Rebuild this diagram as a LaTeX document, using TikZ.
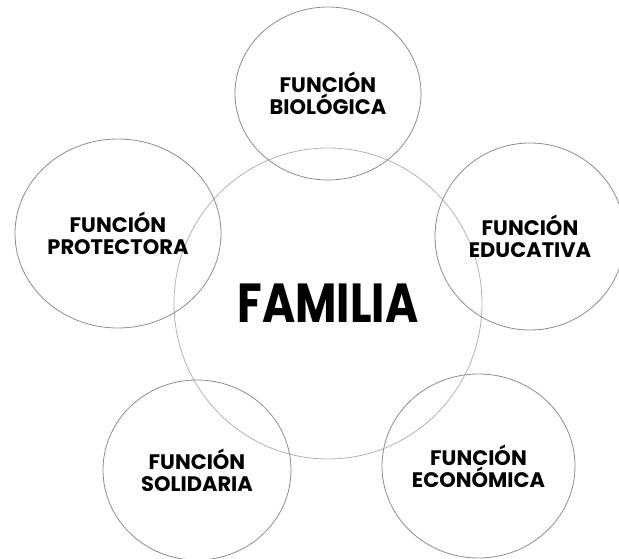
\documentclass[tikz,border=0pt]{standalone}
\usepackage{fontspec}
\setmainfont{Poppins}
\newfontfamily\familiafont[FakeStretch=0.82]{Poppins}
\usetikzlibrary{shapes.geometric}

\begin{document}
\begin{tikzpicture}[x=1pt, y=-1pt,
      funcion/.style = {ellipse, draw=black!45, line width=0.8pt, inner sep=0pt,
                        align=center, font=\bfseries\fontsize{21}{22}\selectfont},
      nucleo/.style  = {ellipse, draw=black!30, line width=0.8pt, inner sep=0pt,
                        font=\familiafont\bfseries\fontsize{55}{60}\selectfont}]
  \useasboundingbox (0,0) rectangle (619,559);
  \clip (0,0) rectangle (619,559);
  \node[nucleo, minimum width=308pt, minimum height=311pt] (familia) at (328,303.5) {FAMILIA};
  \node[funcion, minimum width=186pt, minimum height=173pt] (biologica) at (328,93.5) {FUNCIÓN\\BIOLÓGICA};
  \node[funcion, minimum width=206pt, minimum height=189pt] (protectora) at (118,233.5) {FUNCIÓN\\PROTECTORA};
  \node[funcion, minimum width=190pt, minimum height=187pt] (educativa) at (530,236.5) {FUNCIÓN\\EDUCATIVA};
  \node[funcion, minimum width=188pt, minimum height=180pt] (solidaria) at (197,470) {FUNCIÓN\\SOLIDARIA};
  \node[funcion, minimum width=193pt, minimum height=184pt] (economica) at (478.5,466) {FUNCIÓN\\ECONÓMICA};
\end{tikzpicture}
\end{document}
